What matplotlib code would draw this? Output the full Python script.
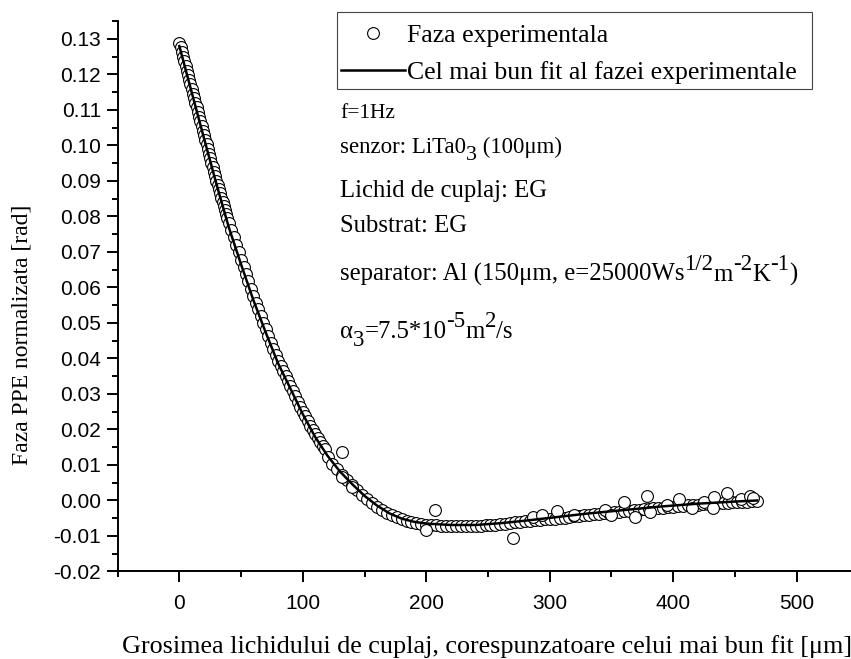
import matplotlib
matplotlib.use("Agg")
import matplotlib.pyplot as plt
from matplotlib.patches import Rectangle
from matplotlib.ticker import MultipleLocator, FuncFormatter

plt.rcParams['font.family'] = 'Liberation Serif'

exp_x_a = [0, 1, 2, 3, 4, 5, 6, 7, 8, 9, 10, 11, 12, 13, 14, 15, 16, 17, 18, 19,
           20, 21, 22, 23, 24, 25, 26, 27, 28, 29, 30, 31, 32, 33, 34, 35, 36, 37, 38, 39]
exp_y_a = [0.1290, 0.1276, 0.1263, 0.1250, 0.1237, 0.1224, 0.1211, 0.1198, 0.1185, 0.1172,
           0.1159, 0.1146, 0.1133, 0.1120, 0.1107, 0.1094, 0.1081, 0.1068, 0.1055, 0.1042,
           0.1029, 0.1016, 0.1003, 0.0990, 0.0977, 0.0964, 0.0951, 0.0939, 0.0926, 0.0914,
           0.0901, 0.0889, 0.0877, 0.0865, 0.0853, 0.0841, 0.0829, 0.0818, 0.0806, 0.0795]

exp_x_b = [40, 42, 44, 46, 48, 50, 52, 54, 56, 58, 60, 62, 64, 66, 68, 70, 72, 74, 76, 78,
           80, 82, 84, 86, 88, 90, 92, 94, 96, 98, 100, 102, 104, 106, 108, 110, 112, 114, 116, 118]
exp_y_b = [0.0783, 0.0762, 0.0741, 0.0720, 0.0699, 0.0678, 0.0657, 0.0637, 0.0617, 0.0597,
           0.0577, 0.0557, 0.0538, 0.0519, 0.0500, 0.0482, 0.0462, 0.0445, 0.0427, 0.0410,
           0.0393, 0.0378, 0.0364, 0.0350, 0.0336, 0.0322, 0.0307, 0.0293, 0.0278, 0.0264,
           0.0250, 0.0237, 0.0224, 0.0211, 0.0198, 0.0186, 0.0175, 0.0165, 0.0154, 0.0144]

exp_x_c = [120, 124, 128, 132, 136, 140, 144, 148, 152, 156, 160, 164, 168, 172, 176, 180,
           184, 188, 192, 196, 200, 204, 208, 212, 216, 220, 224, 228, 232, 236, 240, 244,
           248, 252, 256, 260, 264, 268, 272, 276, 280, 284, 288, 292, 296, 300, 304, 308,
           312, 316, 320, 324, 328, 332, 336, 340, 344, 348, 352, 356, 360, 364, 368, 372,
           376, 380, 384, 388, 392, 396, 400, 404, 408, 412, 416, 420, 424, 428, 432, 436,
           440, 444, 448, 452, 456, 460, 464, 468]
exp_y_c = [0.0123, 0.0104, 0.0088, 0.0072, 0.0057, 0.0043, 0.0029, 0.0016, 0.0004, -0.0008,
           -0.0018, -0.0027, -0.0035, -0.0041, -0.0047, -0.0053, -0.0057, -0.0061, -0.0064, -0.0066,
           -0.0068, -0.0069, -0.0070, -0.0071, -0.0071, -0.0072, -0.0072, -0.0072, -0.0073, -0.0072,
           -0.0072, -0.0071, -0.0070, -0.0069, -0.0068, -0.0067, -0.0065, -0.0064, -0.0062, -0.0061,
           -0.0059, -0.0058, -0.0056, -0.0055, -0.0053, -0.0053, -0.0051, -0.0049, -0.0048, -0.0046,
           -0.0045, -0.0043, -0.0042, -0.0040, -0.0039, -0.0037, -0.0036, -0.0035, -0.0033, -0.0032,
           -0.0030, -0.0029, -0.0028, -0.0026, -0.0025, -0.0024, -0.0022, -0.0021, -0.0020, -0.0019,
           -0.0017, -0.0016, -0.0015, -0.0014, -0.0013, -0.0012, -0.0011, -0.0010, -0.0009, -0.0008,
           -0.0007, -0.0006, -0.0005, -0.0004, -0.0003, -0.0003, -0.0002, -0.0001]

# scattered points off the band
out_x = [131.6, 131.6, 139.7, 200, 207, 270.6, 286.6, 293.7, 305.8, 320, 345, 350,
         360, 369, 378.8, 381, 395, 405, 415, 425, 432.7, 432.5, 443.6, 455, 462.5, 465]
out_y = [0.0137, 0.0065, 0.0037, -0.0082, -0.0027, -0.0106, -0.0046, -0.0041, -0.0031, -0.0040,
         -0.0028, -0.0042, -0.0003, -0.0046, 0.0012, -0.0033, -0.0012, 0.0003, -0.0020, -0.0003,
         0.0011, -0.0021, 0.0021, 0.0005, 0.0012, 0.0008]

# best fit curve
fit_x = [0, 10, 20, 30, 40, 50, 60, 70, 80, 90, 100, 110, 120, 130, 140, 150, 160, 170,
         180, 190, 200, 220, 240, 260, 280, 300, 330, 360, 390, 420, 450, 468]
fit_y = [0.1280, 0.1150, 0.1020, 0.0892, 0.0770, 0.0665, 0.0564, 0.0473, 0.0386, 0.0315,
         0.0243, 0.0179, 0.0126, 0.0082, 0.0046, 0.0013, -0.0014, -0.0036, -0.0051, -0.0060,
         -0.0065, -0.0069, -0.0069, -0.0064, -0.0057, -0.0049, -0.0037, -0.0027, -0.0017,
         -0.0009, -0.0003, 0.0000]

W, H = 851, 659
fig = plt.figure(figsize=(W / 100, H / 100), dpi=100)
ax = fig.add_axes([0.1382, 0.1328, 0.8618, 0.835])

mk = dict(ls='none', marker='o', ms=8.5, mfc='white', mec='black', mew=0.8, zorder=2)
ax.plot(exp_x_a + exp_x_b + exp_x_c, exp_y_a + exp_y_b + exp_y_c,
        label='Faza experimentala', **mk)
ax.plot(out_x, out_y, **mk)
ax.plot(fit_x, fit_y, color='black', lw=1.8, zorder=3,
        label='Cel mai bun fit al fazei experimentale')

ax.set_xlim(-50, 544)
ax.set_ylim(-0.02, 0.135)
ax.xaxis.set_major_locator(MultipleLocator(100))
ax.xaxis.set_minor_locator(MultipleLocator(50))
ax.yaxis.set_major_locator(MultipleLocator(0.01))
ax.yaxis.set_minor_locator(MultipleLocator(0.005))
ax.yaxis.set_major_formatter(FuncFormatter(lambda v, p: '%.2f' % (round(v, 4) + 0.0)))

for s in ['top', 'right']:
    ax.spines[s].set_visible(False)
for s in ['left', 'bottom']:
    ax.spines[s].set_linewidth(1.4)

ax.tick_params(which='both', direction='out', width=1.4, labelsize=15,
               labelfontfamily='Liberation Sans')
ax.tick_params(which='major', length=8)
ax.tick_params(which='minor', length=4)
ax.tick_params(axis='x', pad=8)
ax.tick_params(axis='y', pad=4)

# legend contents without frame, frame drawn as a plain box
ax.legend(loc='upper left', bbox_to_anchor=(341 / W, 1 - 24 / H),
          bbox_transform=fig.transFigure, fontsize=18.5, frameon=False, numpoints=1,
          handlelength=2.5, handletextpad=0.05, borderpad=0, borderaxespad=0,
          labelspacing=0.55)
fig.patches.append(Rectangle((337 / W, 1 - 89 / H), 475 / W, 77 / H, transform=fig.transFigure,
                             fill=False, ec='#444444', lw=0.8))

renderer = fig.canvas.get_renderer()


def rich(x_px, base_px, parts):
    # origin-style text: pieces raised or lowered by dy pixels, written one after another
    x = x_px / W
    for s, size, dy in parts:
        t = fig.text(x, 1 - (base_px - dy) / H, s, fontsize=size, va='baseline')
        x = t.get_window_extent(renderer).x1 / W


tx = 340
rich(tx, 118, [('f=1Hz', 15.5, 0)])
rich(tx, 153, [('senzor: LiTa0', 16.5, 0), ('3', 16, -7), (' (100\u03bcm)', 16.5, 0)])
rich(tx, 197, [('Lichid de cuplaj: EG', 17.8, 0)])
rich(tx, 232, [('Substrat: EG', 17.8, 0)])
rich(tx, 281, [('separator: Al (150\u03bcm, e=25000Ws', 17.8, 0), ('1/2', 16.5, 11),
               ('m', 17.8, 0), ('-2', 16.5, 11), ('K', 17.8, 0), ('-1', 16.5, 11),
               (')', 17.8, 0)])
rich(tx, 338, [('\u03b1', 17.8, 0), ('3', 16.5, -8), ('=7.5*10', 17.8, 0), ('-5', 16.5, 11),
               ('m', 17.8, 0), ('2', 16.5, 11), ('/s', 17.8, 0)])

fig.text(487 / W, 1 - 653 / H,
         'Grosimea lichidului de cuplaj, corespunzatoare celui mai bun fit [\u03bcm]',
         fontsize=18.8, ha='center', va='baseline')
fig.text(22 / W, 1 - 335 / H, 'Faza PPE normalizata [rad]', fontsize=17,
         rotation=90, ha='center', va='center')

fig.savefig('out.png', dpi=100)
